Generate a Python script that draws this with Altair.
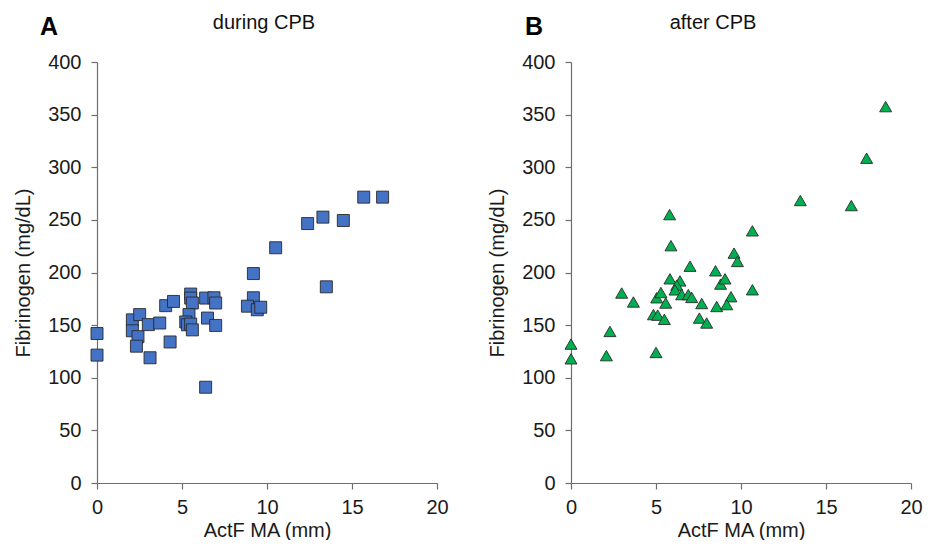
import altair as alt
import pandas as pd

# ---- data ----
during_x = [0, 0, 2.08, 2.08, 2.51, 2.41, 2.32, 3.02, 3.12, 3.69, 4.04, 4.5, 4.3,
            5.51, 5.51, 5.61, 5.41, 5.22, 5.32, 5.51, 5.61, 6.39, 6.88, 6.98, 6.5,
            6.98, 6.39, 9.2, 9.2, 8.85, 9.43, 9.63, 10.51, 12.39, 13.29, 14.49,
            15.69, 16.8, 13.49]
during_y = [142, 121.5, 155, 144.6, 160, 139, 130, 150.5, 119, 152, 168.5, 172.5, 134,
            179.5, 175.7, 171, 160, 153, 150.3, 151, 145.5, 175.7, 176, 171, 156.7,
            149.7, 91, 199, 176, 168, 164.6, 167, 223.5, 246.5, 252.6, 249.4,
            271.6, 271.6, 186.4]

after_x = [0, 0, 2.08, 2.29, 2.98, 3.67, 4.85, 5.0, 5.1, 5.04, 5.29, 5.49, 5.57,
           5.8, 5.88, 5.82, 6.41, 6.22, 6.12, 6.51, 6.9, 7.1, 7.0, 7.69, 7.55,
           7.98, 8.5, 8.57, 8.8, 9.06, 9.41, 9.16, 9.59, 9.79, 10.67, 10.67,
           13.49, 16.49, 17.39, 18.51]
after_y = [132, 118, 121, 144, 180.5, 172, 160, 124, 159.5, 176, 181, 155.5, 171,
           255, 225.5, 194, 192, 188, 183.5, 179, 179, 176.3, 206, 170.5, 156.7,
           152, 201.6, 167.7, 189, 194, 177, 169.5, 218.4, 210.5, 239.6, 183.6,
           268.4, 263.6, 308.6, 357.6]

x_ticks = [0, 5, 10, 15, 20]
y_ticks = [0, 50, 100, 150, 200, 250, 300, 350, 400]

FONT = "Liberation Sans"


def panel(xs, ys, shape, fill, title, letter, letter_dx, title_dx):
    df = pd.DataFrame({"actf": xs, "fib": ys})
    x = alt.X("actf:Q", scale=alt.Scale(domain=[0, 20], nice=False, zero=False),
              axis=alt.Axis(values=x_ticks, title="ActF MA (mm)", labelPadding=8,
                            titlePadding=3, labelFlush=False))
    y = alt.Y("fib:Q", scale=alt.Scale(domain=[0, 400], nice=False),
              axis=alt.Axis(values=y_ticks, title="Fibrinogen (mg/dL)", labelPadding=10,
                            titlePadding=14, labelFlush=False))
    pts = alt.Chart(df).mark_point(shape=shape, filled=True, fill=fill, stroke="#2a2a2a",
                                   strokeWidth=0.9, size=144, opacity=1).encode(x=x, y=y)
    lab = alt.Chart(pd.DataFrame({"t": [letter]})).mark_text(
        fontSize=25, fontWeight="bold", align="center", baseline="alphabetic",
        font=FONT, color="#000000").encode(text="t:N", x=alt.value(letter_dx), y=alt.value(-27))
    ttl = alt.Chart(pd.DataFrame({"t": [title]})).mark_text(
        fontSize=20, align="center", baseline="alphabetic", font=FONT,
        color="#111111").encode(text="t:N", x=alt.value(title_dx), y=alt.value(-33))
    return alt.layer(pts, lab, ttl).properties(width=340, height=421)


left = panel(during_x, during_y, "square", "#4472C4", "during CPB", "A", -48, 167)
right = panel(after_x, after_y, "triangle-up", "#00B050", "after CPB", "B", -37, 142)

chart = alt.hconcat(left, right, spacing=38).properties(
    padding={"left": 5, "top": 5, "right": 0, "bottom": 0}
).configure_view(stroke=None).configure_axis(
    grid=False, domainColor="#6e6e6e", tickColor="#6e6e6e", tickSize=6,
    labelFontSize=20, titleFontSize=20, labelFont=FONT, titleFont=FONT,
    labelColor="#1a1a1a", titleColor="#1a1a1a", titleFontWeight="normal",
    domainWidth=1.2, tickWidth=1.2)

chart.save("out.html", embed_options={"renderer": "svg", "actions": False})
